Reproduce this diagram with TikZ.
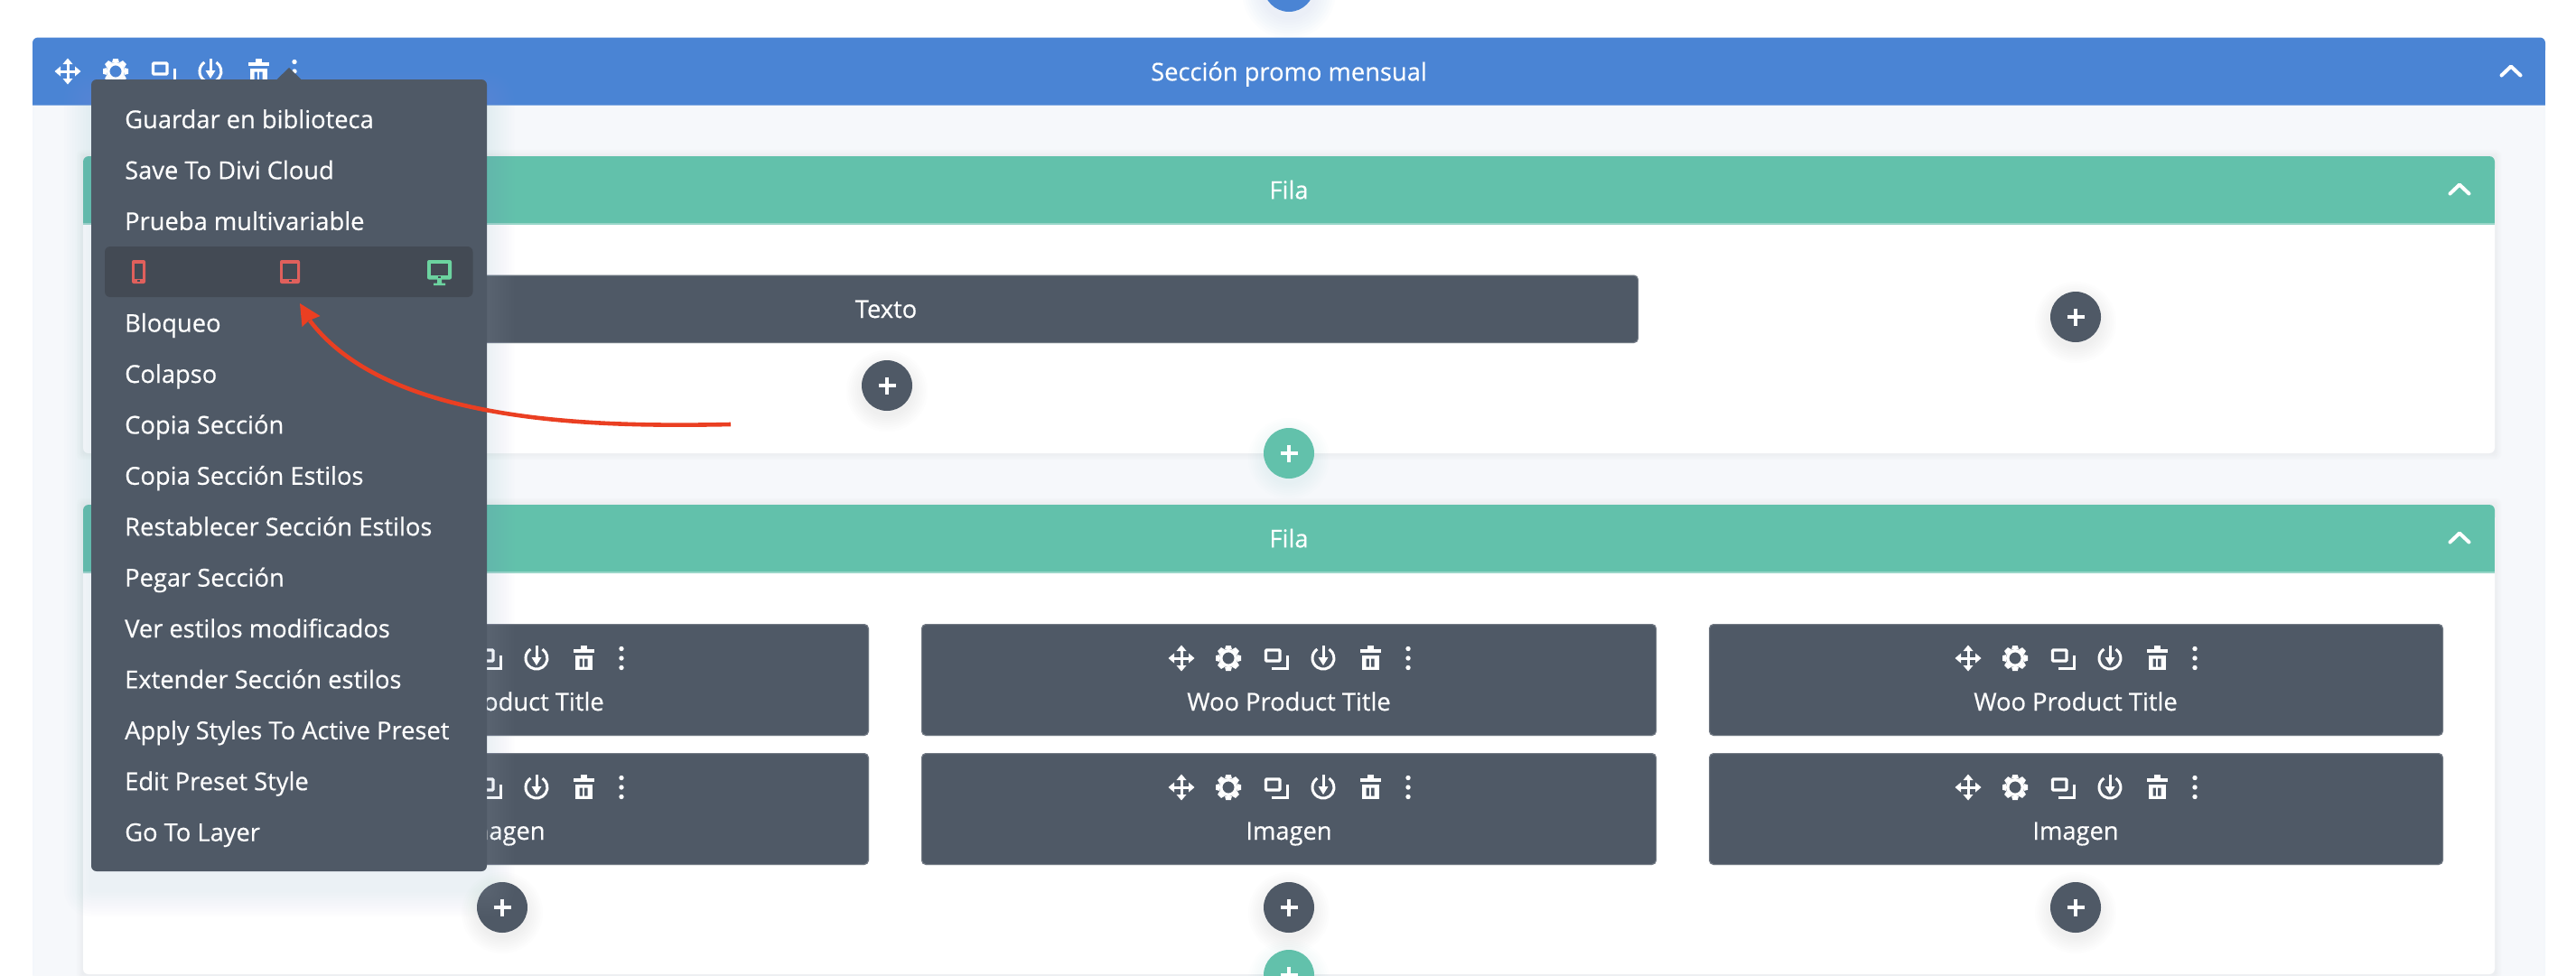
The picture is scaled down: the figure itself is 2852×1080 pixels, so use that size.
\documentclass[tikz,border=0pt]{standalone}
\usepackage{fontspec}
\setmainfont{Open Sans}[FakeBold=0.42]
\usetikzlibrary{arrows.meta}
\definecolor{secblue}{HTML}{4A84D4}
\definecolor{rowgreen}{HTML}{62C1AB}
\definecolor{slatec}{HTML}{4F5966}
\definecolor{barc}{HTML}{434A54}
\definecolor{secbg}{HTML}{F6F8FB}
\definecolor{arrowred}{HTML}{EA3F22}
\definecolor{devred}{HTML}{E0605C}
\definecolor{devgreen}{HTML}{6CD3A0}
\definecolor{shadowc}{HTML}{9DB8D8}
\tikzset{
  menuitem/.style={anchor=base west,inner sep=0pt,text=white,font=\fontsize{27.3}{30}\selectfont,yshift=-1pt,xshift=-1pt},
  label/.style={anchor=base,inner sep=0pt,text=white,font=\fontsize{27.3}{30}\selectfont,yshift=-1pt},
  plusbtn/.style={circle,minimum size=56pt,inner sep=0pt,fill=#1},
  chev/.style={draw=white,line width=4pt,line cap=round,line join=round}
}
% soft shadow behind a rectangle
\newcommand{\softrect}[6]{% x1,y1,x2,y2,spread,opacity
  \foreach \i in {1,...,10}{
    \pgfmathsetmacro{\e}{#5*\i/10}
    \fill[shadowc,fill opacity=#6,rounded corners=\e pt] (#1-\e,#2-\e) rectangle (#3+\e,#4+\e);
  }}
\newcommand{\softdisc}[3]{% x,y,opacity
  \foreach \i in {1,...,8}{
    \fill[slatec,fill opacity=#3] (#1,#2+6) circle[radius=26+\i*2.4];
  }}
\newcommand{\headbar}[5]{% x1,y1,x2,y2,colour
  \fill[#5,rounded corners=6pt] (#1,#2) rectangle (#3,#2+20);
  \fill[#5] (#1,#2+8) rectangle (#3,#4);
  \fill[white,fill opacity=.35] (#1,#4-1.2) rectangle (#3,#4);}
% tool icons: relative to a centre
\newcommand{\moveicon}[3]{\begin{scope}[shift={(#1,#2)}]
  \draw[white,line width=3pt] (-11,0) -- (11,0) (0,-11) -- (0,11);
  \fill[white] (-14.5,0)--(-8,-5.5)--(-8,5.5)--cycle (14.5,0)--(8,-5.5)--(8,5.5)--cycle
   (0,-14.5)--(-5.5,-8)--(5.5,-8)--cycle (0,14.5)--(-5.5,8)--(5.5,8)--cycle;
\end{scope}}
\newcommand{\gearicon}[3]{\begin{scope}[shift={(#1,#2)}]
  \draw[white,line width=3.4pt] (0,0) circle[radius=8.3];
  \foreach \a in {0,45,...,315}{
    \fill[white,rotate=\a] (-2.8,-14)--(2.8,-14)--(4,-9.6)--(-4,-9.6)--cycle;}
\end{scope}}
\newcommand{\copyicon}[3]{\begin{scope}[shift={(#1,#2)}]
  \draw[white,line width=3.4pt,rounded corners=1pt] (-11.5,-9) rectangle (4,3);
  \draw[white,line width=2.4pt] (-5,11.5) -- (12.5,11.5) -- (12.5,-3);
\end{scope}}
\newcommand{\powericon}[3]{\begin{scope}[shift={(#1,#2)}]
  \draw[white,line width=3pt] (6.5,-10) arc[start angle=-57,end angle=237,radius=12];
  \draw[white,line width=3pt] (0,-14) -- (0,2);
  \fill[white] (0,8)--(-5.5,-1)--(5.5,-1)--cycle;
\end{scope}}
\newcommand{\trashicon}[3]{\begin{scope}[shift={(#1,#2)}]
  \fill[white] (-3.5,-14) rectangle (3.5,-10);
  \fill[white] (-11.5,-10.5) rectangle (11.5,-6.5);
  \fill[white] (-9.5,-3.5) rectangle (9.5,13);
  \fill[#3] (-4.5,0.5) rectangle (-1.2,9.5) (1.2,0.5) rectangle (4.5,9.5);
\end{scope}}
\newcommand{\dotsicon}[3]{\begin{scope}[shift={(#1,#2)}]
  \fill[white] (0,-10.5) circle[radius=2.7] (0,0) circle[radius=2.7] (0,10.5) circle[radius=2.7];
\end{scope}}
\newcommand{\moduleicons}[2]{%
  \moveicon{#1-119}{#2}{slatec}\gearicon{#1-67}{#2}{slatec}\copyicon{#1-14}{#2}{slatec}%
  \powericon{#1+38}{#2}{slatec}\trashicon{#1+90}{#2}{slatec}\dotsicon{#1+132}{#2}{slatec}}
\newcommand{\moduleblock}[4]{% left,right,top,bottom
  \fill[slatec,rounded corners=5pt] (#1,#3) rectangle (#2,#4);
  \draw[white,opacity=.2,line width=1pt,rounded corners=5pt] (#1+.5,#3+.5) rectangle (#2-.5,#4-.5);}
\begin{document}
\begin{tikzpicture}[x=1pt,y=-1pt]
\useasboundingbox (0,0) rectangle (2852,1080);
\clip (0,0) rectangle (2852,1080);
\fill[white] (0,0) rectangle (2852,1080);

% top add-section button
\foreach \i in {1,...,8}{\fill[secblue,fill opacity=.012] (1427,-9) circle[radius=28+\i*3];}
\node[plusbtn=secblue] (addtop) at (1427,-15) {};

% section background
\fill[secbg,rounded corners=6pt] (36,42) rectangle (2818,1100);
\fill[secbg!70!shadowc!30!white] (36,117) rectangle (38,1080);
\fill[secbg!70!shadowc!30!white] (2816,117) rectangle (2818,1080);
\headbar{36}{41.5}{2818}{117}{secblue}
\node[label] (sectitle) at (1427,88.3) {Sección promo mensual};
\draw[chev] (2769.5,83.5) -- (2780,73.5) -- (2790.5,83.5);
\moveicon{75}{79}{secblue}\gearicon{128}{79}{secblue}\copyicon{181}{79}{secblue}
\powericon{233}{79}{secblue}\trashicon{286}{79}{secblue}\dotsicon{326}{79}{secblue}

% row 1
\softrect{92}{173}{2762}{502}{8}{.008}
\fill[white,rounded corners=6pt] (92,173) rectangle (2762,502);
\headbar{92}{173}{2762}{248.5}{rowgreen}
\node[label] (fila1) at (1427,219.3) {Fila};
\draw[chev] (2712.5,214.5) -- (2723,204.5) -- (2733.5,214.5);
\moduleblock{148}{1814}{304.5}{380}
\node[label] (texto) at (981,351) {Texto};
\softdisc{982}{427}{.006}
\node[plusbtn=slatec] (addtexto) at (982,427) {};
\softdisc{2298}{351}{.006}
\node[plusbtn=slatec] (addcol) at (2298,351) {};

% row 2
\softrect{92}{559}{2762}{1079}{8}{.008}
\fill[white,rounded corners=6pt] (92,559) rectangle (2762,1079);
\headbar{92}{559}{2762}{634.5}{rowgreen}
\node[label] (fila2) at (1427,605.3) {Fila};
\draw[chev] (2712.5,600.5) -- (2723,590.5) -- (2733.5,600.5);

% green add-row buttons
\foreach \i in {1,...,8}{\fill[rowgreen,fill opacity=.008] (1427,508) circle[radius=26+\i*2.4];}
\node[plusbtn=rowgreen] (addrow1) at (1427,502) {};
\foreach \i in {1,...,8}{\fill[rowgreen,fill opacity=.008] (1427,1086) circle[radius=26+\i*2.4];}
\node[plusbtn=rowgreen] (addrow2) at (1427,1080) {};

% modules
\foreach \L/\R/\C/\n in {147/962/556/a,1020/1834/1427/b,1892/2705/2298/c}{
  \moduleblock{\L}{\R}{691}{815}
  \moduleblock{\L}{\R}{834}{958}
  \moduleicons{\C}{729}
  \moduleicons{\C}{872}
  \node[label] (woo\n) at (\C,786) {Woo Product Title};
  \node[label] (img\n) at (\C,929) {Imagen};
  \softdisc{\C}{1005}{.006}
  \node[plusbtn=slatec] (add\n) at (\C,1005) {};
}
% plus marks
\foreach \X/\Y/\N in {1427/-15/p0,982/427/p1,2298/351/p2,1427/502/p3,1427/1080/p4,556/1005/p5,1427/1005/p6,2298/1005/p7}{
  \draw[white,line width=3.6pt] (\X-9.5,\Y) -- (\X+9.5,\Y) (\X,\Y-9.5) -- (\X,\Y+9.5);
}

% context menu
\softrect{101}{110}{539}{985}{30}{.014}
\fill[slatec] (306,88.5) -- (320,75) -- (334,88.5) -- cycle;
\fill[slatec,rounded corners=6pt] (101,88) rectangle (539,965);
\node[menuitem] (m0) at (139,141) {Guardar en biblioteca};
\node[menuitem] (m1) at (139,197.4) {Save To Divi Cloud};
\node[menuitem] (m2) at (139,253.8) {Prueba multivariable};
\fill[barc,rounded corners=6pt] (116,273) rectangle (523.5,329);
\node[menuitem] (m4) at (139,366.6) {Bloqueo};
\node[menuitem] (m5) at (139,423) {Colapso};
\node[menuitem] (m6) at (139,479.4) {Copia Sección};
\node[menuitem] (m7) at (139,535.8) {Copia Sección Estilos};
\node[menuitem] (m8) at (139,592.2) {Restablecer Sección Estilos};
\node[menuitem] (m9) at (139,648.6) {Pegar Sección};
\node[menuitem] (m10) at (139,705) {Ver estilos modificados};
\node[menuitem] (m11) at (139,761.4) {Extender Sección estilos};
\node[menuitem] (m12) at (139,817.8) {Apply Styles To Active Preset};
\node[menuitem] (m13) at (139,874.2) {Edit Preset Style};
\node[menuitem] (m14) at (139,930.6) {Go To Layer};

% device icons
\fill[devred,rounded corners=2pt] (146,288) rectangle (161,314);
\fill[barc] (149,292) rectangle (158,309);
\fill[barc] (152.3,310.2) rectangle (154.7,312);
\fill[devred,rounded corners=2pt] (310,288) rectangle (332,314);
\fill[barc] (313,292) rectangle (329,309);
\fill[barc] (319.5,310.2) rectangle (322.5,312);
\fill[devgreen,rounded corners=2pt] (473,288) rectangle (500,309.5);
\fill[barc] (477,292) rectangle (496,305);
\fill[devgreen] (484,309) rectangle (489,314) (480,313.5) rectangle (493,316);
\fill[barc] (485,306.2) rectangle (488,308);

% red arrow
\coordinate (arrstart) at (809,470);
\coordinate (arrneck) at (343,355);
\coordinate (arrtip) at (332,336);
\draw[arrowred,line width=4.6pt] (arrstart) .. controls (660,473) and (430,470) .. (arrneck);
\fill[arrowred] (arrtip) -- (354.5,350) -- (342,355) -- (334.5,362) -- cycle;
\end{tikzpicture}
\end{document}
